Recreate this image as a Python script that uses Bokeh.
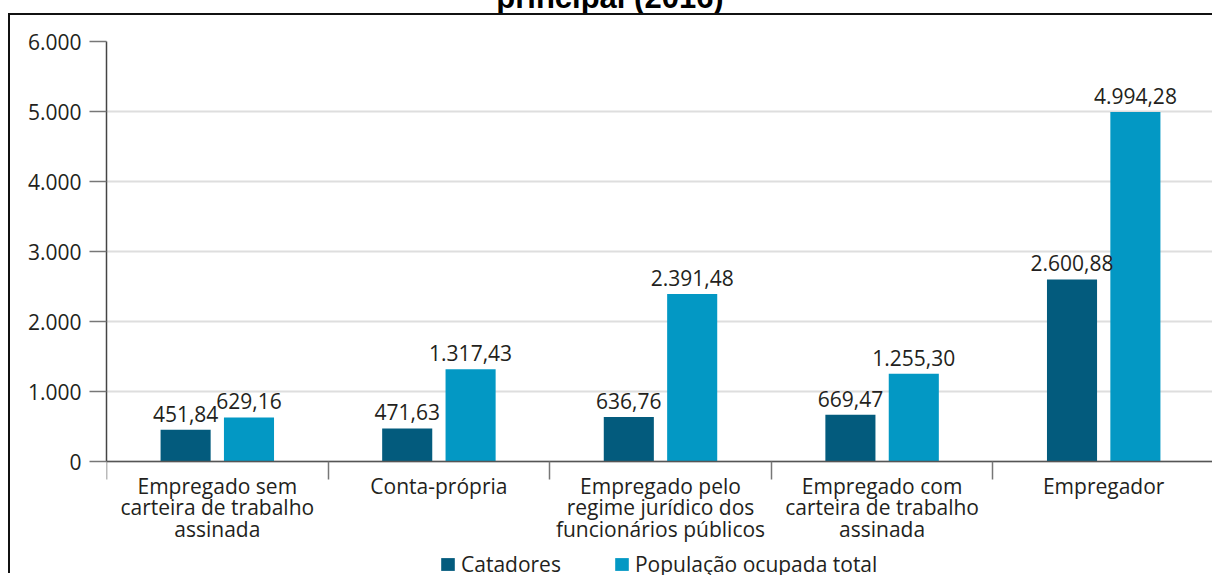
import numpy as np
from bokeh.plotting import figure
from bokeh.models import (ColumnDataSource, Range1d, FixedTicker, Legend, LegendItem, Div)
from bokeh.transform import dodge
from bokeh.core.properties import value
from bokeh.embed import file_html
from bokeh.resources import INLINE

# ---------------- data ----------------
categories = [
    "Empregado sem\ncarteira de trabalho\nassinada",
    "Conta-própria",
    "Empregado pelo\nregime jurídico dos\nfuncionários públicos",
    "Empregado com\ncarteira de trabalho\nassinada",
    "Empregador",
]
catadores = [451.84, 471.63, 636.76, 669.47, 2600.88]
populacao = [629.16, 1317.43, 2391.48, 1255.30, 4994.28]
y_ticks = [0, 1000, 2000, 3000, 4000, 5000, 6000]
y_tick_labels = ["0", "1.000", "2.000", "3.000", "4.000", "5.000", "6.000"]
series_names = ["Catadores", "População ocupada total"]
title_text = "principal (2016)"

DARK = "#035b7d"
LIGHT = "#0398c4"
TXT = "#231f20"
FONT = "Open Sans"
FS = "21px"


def br(v):
    s = f"{v:,.2f}"
    return s.replace(",", "X").replace(".", ",").replace("X", ".")


centers = [float(i) + 0.5 for i in range(len(categories))]
src = ColumnDataSource(dict(
    x=centers,
    cat=catadores,
    pop=populacao,
    cat_lbl=[br(v) for v in catadores],
    pop_lbl=[br(v) for v in populacao],
))

# canvas origin on the page: (10, 15); the frame runs to the bottom of the canvas
# so that the axis labels and legend row below the zero line are inside it.
H_CANVAS = 560
TOP = 26            # frame top  (value 6000)
ZERO = 446          # zero line, canvas px
y_max = 6000
y_min = -y_max * (H_CANVAS - ZERO) / (ZERO - TOP)

p = figure(width=1204, height=H_CANVAS, output_backend="svg", toolbar_location=None,
           x_range=Range1d(0, len(categories)), y_range=Range1d(y_min, y_max),
           min_border_left=96, min_border_right=0, min_border_top=TOP,
           min_border_bottom=0, margin=(13, 0, 0, 8),
           styles={"border-left": "2px solid #111", "border-top": "2px solid #111"})
p.outline_line_color = None
p.background_fill_color = "white"
p.border_fill_color = "white"

# grid
p.xgrid.visible = False
p.ygrid.ticker = FixedTicker(ticks=y_ticks)
p.ygrid.grid_line_color = "#dedede"
p.ygrid.grid_line_width = 2

OFF = 0.143
W = 0.226
r1 = p.vbar(x=dodge("x", -OFF), top="cat", bottom=0, width=W, source=src,
            fill_color=DARK, line_color=None)
r2 = p.vbar(x=dodge("x", OFF), top="pop", bottom=0, width=W, source=src,
            fill_color=LIGHT, line_color=None)

p.text(x=dodge("x", -OFF), y="cat", text="cat_lbl", source=src,
       text_align="center", text_baseline="bottom", y_offset=-8,
       text_font=value(FONT), text_font_size=FS, text_color=TXT)
p.text(x=dodge("x", OFF), y="pop", text="pop_lbl", source=src,
       text_align="center", text_baseline="bottom", y_offset=-8,
       text_font=value(FONT), text_font_size=FS, text_color=TXT)

# y axis
ya = p.yaxis[0]
ya.ticker = FixedTicker(ticks=y_ticks)
ya.bounds = (0, y_max)
ya.major_label_overrides = {t: l for t, l in zip(y_ticks, y_tick_labels)}
ya.axis_line_color = "#444444"
ya.axis_line_width = 1.5
ya.major_tick_line_color = "#777777"
ya.major_tick_line_width = 1.5
ya.major_tick_out = 17
ya.major_tick_in = 0
ya.minor_tick_line_color = None
ya.major_label_standoff = 8
ya.major_label_text_font = FONT
ya.major_label_text_font_size = FS
ya.major_label_text_color = TXT

# x axis, drawn on the zero line
xa = p.xaxis[0]
xa.fixed_location = 0
xa.ticker = FixedTicker(ticks=centers, minor_ticks=list(range(len(categories) + 1)))
xa.major_label_overrides = {c: l for c, l in zip(centers, categories)}
xa.axis_line_color = "#555555"
xa.axis_line_width = 1.5
xa.major_tick_line_color = None
xa.major_tick_out = 0
xa.major_tick_in = 0
xa.minor_tick_line_color = "#777777"
xa.minor_tick_line_width = 1.5
xa.minor_tick_out = 18
xa.minor_tick_in = 0
xa.major_label_standoff = -8
xa.major_label_text_font = FONT
xa.major_label_text_font_size = FS
xa.major_label_text_color = TXT
xa.major_label_text_line_height = 0.78

# legend row at the bottom of the frame
legend = Legend(items=[LegendItem(label=series_names[0], renderers=[r1]),
                       LegendItem(label=series_names[1], renderers=[r2])],
                orientation="horizontal", location=(333, -3),
                border_line_color=None, background_fill_alpha=0,
                padding=0, margin=0, spacing=52, label_standoff=5,
                glyph_width=17, glyph_height=16, label_height=16,
                label_text_line_height=0.5,
                label_text_font=FONT, label_text_font_size=FS,
                label_text_color=TXT)
p.add_layout(legend, "center")

# cut-off title above the frame
title_div = Div(
    text=('<div style="position:relative; top:-18px; width:1216px; text-align:center; '
          'font-family:\'Liberation Sans\'; font-weight:bold; font-size:31px; '
          'line-height:31px; color:#000; padding-left:4px;">' + title_text + '</div>'),
    width=1216, height=13, margin=0,
    styles={"overflow": "hidden", "position": "absolute", "left": "0px", "top": "0px"})

open("out.html", "w").write(file_html([title_div, p], INLINE))
